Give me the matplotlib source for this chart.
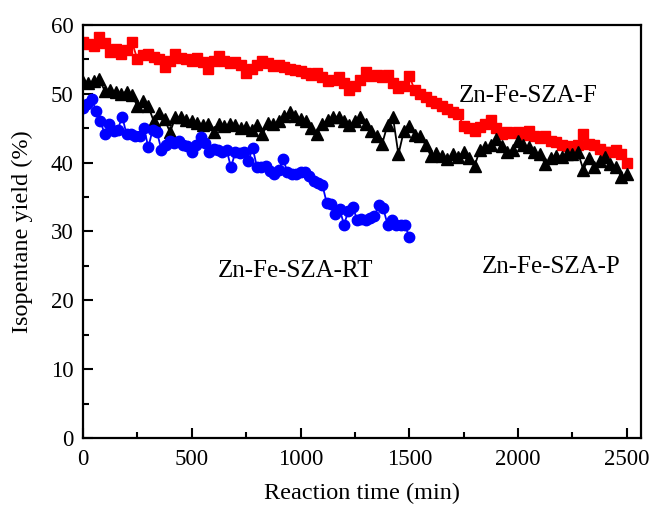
import numpy as np
import matplotlib
matplotlib.use("Agg")
import matplotlib.pyplot as plt
from matplotlib.ticker import MultipleLocator

# reaction time grids (min)
time_fp = np.arange(0, 2501, 25)
time_rt = np.arange(0, 1501, 20)

# isopentane yield (%)
yield_f = [57.5, 57.2, 57.0, 58.2, 57.4, 56.0, 56.5, 55.8, 56.4, 57.5,
           55.0, 55.6, 55.8, 55.3, 55.0, 53.9, 54.8, 55.8, 55.2, 55.0,
           54.8, 55.2, 54.6, 53.6, 54.8, 55.5, 54.8, 54.5, 54.6, 54.2,
           53.0, 53.6, 54.2, 54.8, 54.4, 54.0, 54.2, 53.9, 53.6, 53.5,
           53.3, 53.0, 52.8, 53.0, 52.4, 51.8, 52.0, 52.4, 51.5, 50.6,
           51.2, 52.0, 53.2, 52.6, 52.8, 52.4, 52.8, 51.5, 50.8, 51.2,
           52.6, 50.5, 50.0, 49.6, 49.0, 48.6, 48.2, 47.8, 47.4, 47.0,
           45.3, 45.0, 44.6, 45.2, 45.6, 46.2, 45.0, 44.1, 44.4, 44.3,
           44.5, 44.0, 44.6, 43.8, 43.6, 43.8, 43.2, 43.0, 42.6, 42.4,
           42.2, 42.6, 44.1, 42.7, 42.5, 42.0, 41.5, 41.6, 41.9, 41.2,
           40.0]

yield_p = [51.7, 51.5, 51.8, 52.1, 50.4, 50.6, 50.2, 50.0, 50.3, 49.8,
           48.2, 49.0, 48.2, 46.0, 47.2, 46.3, 44.4, 46.6, 46.6, 46.2,
           46.0, 45.8, 45.5, 45.6, 44.4, 45.6, 45.3, 45.6, 45.4, 45.0,
           45.2, 44.8, 45.4, 44.1, 45.8, 45.6, 46.0, 46.8, 47.3, 46.8,
           46.4, 46.0, 45.1, 44.1, 45.6, 46.2, 46.6, 46.7, 46.0, 45.4,
           46.0, 46.7, 45.6, 44.6, 43.8, 42.7, 45.5, 46.6, 41.2, 44.6,
           45.3, 44.0, 43.8, 42.6, 40.9, 41.4, 41.0, 40.5, 41.2, 40.8,
           41.6, 40.6, 39.5, 41.9, 42.2, 42.6, 43.4, 42.4, 41.5, 41.9,
           43.1, 42.6, 42.2, 41.6, 41.2, 39.8, 40.6, 41.0, 40.8, 41.3,
           41.2, 41.5, 39.0, 40.6, 39.3, 40.2, 40.8, 39.8, 39.4, 37.9,
           38.3]

yield_rt = [48.0, 48.5, 49.2, 47.5, 46.0, 44.1, 45.6, 44.6, 44.8, 46.7,
            44.1, 44.2, 43.8, 43.9, 45.1, 42.2, 44.8, 44.4, 41.9, 42.5,
            43.1, 42.8, 43.1, 42.6, 42.4, 41.6, 42.6, 43.7, 42.8, 41.6,
            42.0, 41.8, 41.5, 41.9, 39.3, 41.5, 41.4, 41.6, 40.2, 42.1,
            39.3, 39.4, 39.5, 38.8, 38.3, 39.0, 40.5, 38.6, 38.4, 38.3,
            38.6, 38.7, 38.0, 37.3, 37.0, 36.8, 34.2, 34.0, 32.5, 33.2,
            31.0, 33.0, 33.6, 31.7, 31.8, 31.7, 32.0, 32.2, 33.9, 33.4,
            31.0, 31.6, 30.9, 31.0, 30.9, 29.2]

plt.rcParams['font.family'] = ['Liberation Serif', 'DejaVu Serif']

fig = plt.figure(figsize=(6.54, 5.09), dpi=100)
ax = fig.add_axes([0.127, 0.1395, 0.853, 0.8115])

ax.plot(time_fp, yield_f, color='#ff0000', marker='s', markersize=7.5, lw=1.3)
ax.plot(time_fp, yield_p, color='black', marker='^', markersize=9, lw=1.3)
ax.plot(time_rt, yield_rt, color='#0000ff', marker='o', markersize=7.5, lw=1.3)

ax.text(2045, 49.7, 'Zn-Fe-SZA-F', fontsize=18, ha='center', va='center')
ax.text(2151, 24.9, 'Zn-Fe-SZA-P', fontsize=18, ha='center', va='center')
ax.text(979, 24.2, 'Zn-Fe-SZA-RT', fontsize=18, ha='center', va='center')

ax.set_xlim(0, 2565)
ax.set_ylim(0, 60)
ax.xaxis.set_major_locator(MultipleLocator(500))
ax.xaxis.set_minor_locator(MultipleLocator(250))
ax.yaxis.set_major_locator(MultipleLocator(10))
ax.yaxis.set_minor_locator(MultipleLocator(5))
ax.tick_params(which='both', direction='in', labelsize=16.5, width=1.5)
ax.tick_params(which='major', length=7)
ax.tick_params(which='minor', length=4.3)
ax.tick_params(axis='x', pad=8)
ax.tick_params(axis='y', pad=7)
for s in ax.spines.values():
    s.set_linewidth(1.6)

ax.set_xlabel('Reaction time (min)', fontsize=17.5, va='top')
ax.set_ylabel('Isopentane yield (%)', fontsize=17.5, va='center')
ax.xaxis.set_label_coords(0.5, -0.108)
ax.yaxis.set_label_coords(-0.108, 0.5)

fig.savefig('out.png', dpi=100)
